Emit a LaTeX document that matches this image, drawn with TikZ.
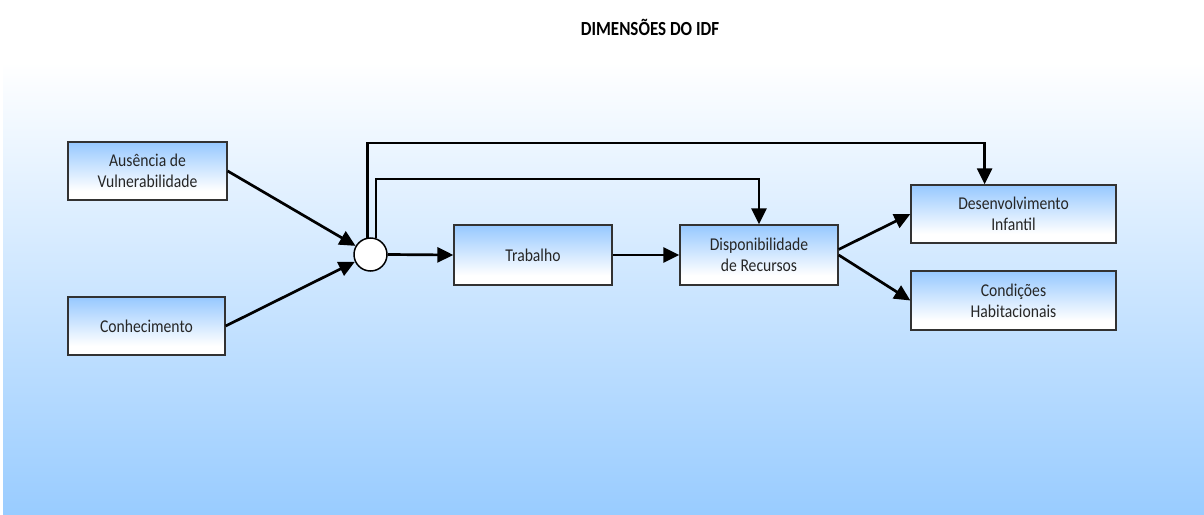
\documentclass[tikz,border=0pt]{standalone}
\usepackage{fontspec}
\usetikzlibrary{arrows.meta,calc}
\newfontfamily\boxfont[FakeStretch=0.87]{Carlito}
\newfontfamily\titlefont[FakeStretch=0.85]{Carlito}
\definecolor{bgblue}{RGB}{153,204,255}
\definecolor{boxblue}{RGB}{150,200,255}
\definecolor{edgegray}{RGB}{50,50,50}
\pgfdeclareverticalshading{boxshade}{100bp}{color(0bp)=(white); color(33bp)=(white); color(75bp)=(boxblue); color(100bp)=(boxblue)}
\tikzset{
  dimbox/.style={draw=edgegray, line width=1.3pt, shading=boxshade, inner sep=0pt,
    align=center, font=\boxfont\fontsize{18}{21}\selectfont, text=black!85},
  junc/.style={circle, draw=black, line width=1.5pt, fill=white, minimum size=33pt, inner sep=0pt},
  arr/.style={line width=2.7pt, -{Triangle[length=16pt,width=15pt]}},
  loopline/.style={line width=2.5pt, -{Triangle[length=16pt,width=15pt]}}
}
\begin{document}
\begin{tikzpicture}[x=1pt,y=-1pt]
\useasboundingbox (0,0) rectangle (1204,514);
\fill[white] (0,0) rectangle (1204,514);
\shade[top color=white, bottom color=bgblue] (3,62) rectangle (1204,514);
\node[font=\titlefont\bfseries\fontsize{20}{24}\selectfont] (title) at (650,27) {DIMENSÕES DO IDF};
\node[dimbox, minimum width=159pt, minimum height=58pt] (aus) at (147.5,171) {Ausência de\\Vulnerabilidade};
\node[dimbox, minimum width=157pt, minimum height=58pt] (con) at (146.5,326) {Conhecimento};
\node[junc] (circ) at (370.5,254.5) {};
\node[dimbox, minimum width=158pt, minimum height=60pt] (trab) at (533,255) {Trabalho};
\node[dimbox, minimum width=158pt, minimum height=60pt] (disp) at (759,255) {Disponibilidade\\de Recursos};
\node[dimbox, minimum width=205pt, minimum height=58pt] (desenv) at (1013.5,214) {Desenvolvimento\\Infantil};
\node[dimbox, minimum width=205pt, minimum height=59pt] (cond) at (1013.5,300.5) {Condições\\Habitacionais};
\coordinate (dtop) at ($(desenv.north west)!0.36!(desenv.north east)$);
\coordinate (topline) at (0,143);
\coordinate (midline) at (0,179);
\draw[arr] (aus.east) -- (circ.150);
\draw[arr] (con.east) -- (circ.205);
\draw[arr] (circ.east) -- (trab.west);
\draw[arr] (trab.east) -- (disp.west);
\draw[arr] (disp.4) -- (desenv.west);
\draw[arr] (disp.east) -- (cond.west);
\draw[loopline] (circ.100) |- (topline -| dtop) -- (dtop);
\draw[loopline] (circ.72) |- (midline -| disp.north) -- (disp.north);
\end{tikzpicture}
\end{document}
